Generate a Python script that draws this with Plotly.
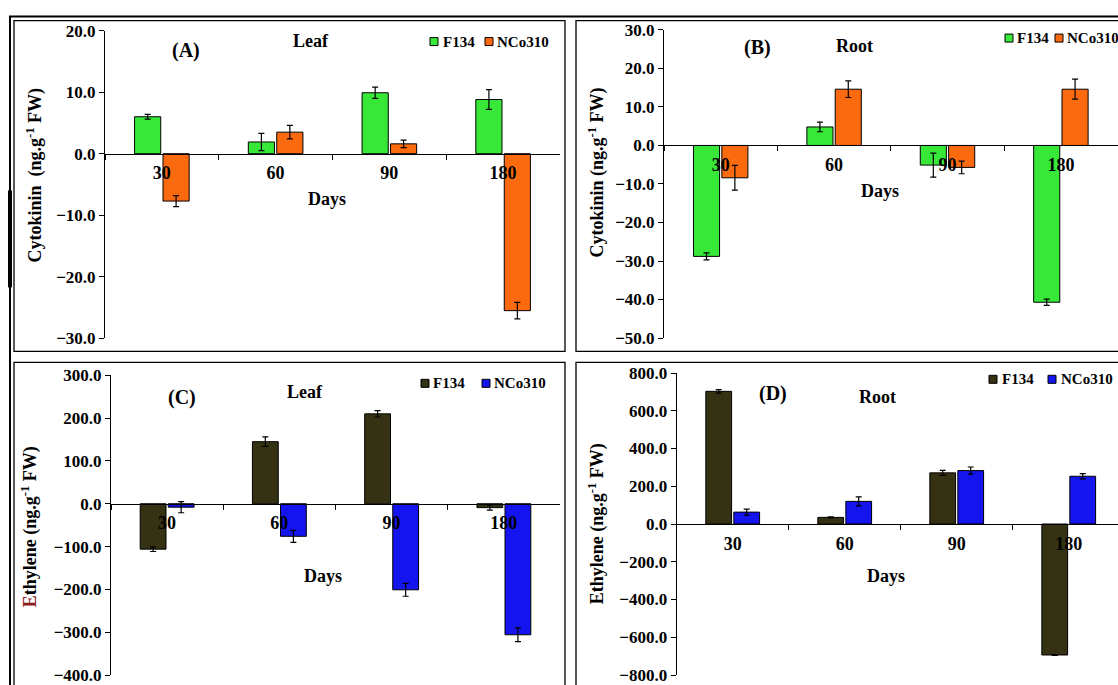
import plotly.graph_objects as go

# ---------------- data ----------------
days = ["30", "60", "90", "180"]

cyto_leaf_F134 = [6.0, 1.9, 9.9, 8.8]
cyto_leaf_F134_err = [0.4, 1.4, 0.9, 1.6]
cyto_leaf_NCo310 = [-7.7, 3.5, 1.6, -25.5]
cyto_leaf_NCo310_err = [0.9, 1.1, 0.6, 1.35]

cyto_root_F134 = [-28.8, 4.8, -5.1, -40.7]
cyto_root_F134_err = [0.9, 1.25, 3.1, 0.8]
cyto_root_NCo310 = [-8.4, 14.6, -5.7, 14.6]
cyto_root_NCo310_err = [3.2, 2.15, 1.65, 2.6]

eth_leaf_F134 = [-106, 145, 210, -9]
eth_leaf_F134_err = [5.5, 11, 7.4, 6]
eth_leaf_NCo310 = [-8, -76, -201, -306]
eth_leaf_NCo310_err = [13, 14, 15, 16]

eth_root_F134 = [703, 35, 271, -694]
eth_root_F134_err = [9, 3, 13, 2]
eth_root_NCo310 = [63, 120, 283, 253]
eth_root_NCo310_err = [16, 24, 19, 14]

series_names = ["F134", "NCo310"]

# ---------------- style ----------------
W, H = 1118, 685
FONT = "Liberation Serif, Times New Roman, serif"
GREEN, ORANGE = "#38e838", "#fc6a10"
OLIVE, BLUE = "#353113", "#1414ee"


def fx(x):
    return x / W


def fy(y):
    # vertical pixel position (top-down) -> paper fraction
    return 1 - ((y - 8.4) / 0.973) / H


def clamp(v):
    return min(1.0, max(0.0, v))


panels = [
    dict(key="", x0=105, x1=560, y0=30, y1=338, rng=[-30, 20], dt=10,
         s1=cyto_leaf_F134, e1=cyto_leaf_F134_err, s2=cyto_leaf_NCo310, e2=cyto_leaf_NCo310_err,
         c1=GREEN, c2=ORANGE, xr=[-0.5, 3.5]),
    dict(key="2", x0=664, x1=1117.6, y0=29.3, y1=337.7, rng=[-50, 30], dt=10,
         s1=cyto_root_F134, e1=cyto_root_F134_err, s2=cyto_root_NCo310, e2=cyto_root_NCo310_err,
         c1=GREEN, c2=ORANGE, xr=[-0.5, 3.5]),
    dict(key="3", x0=111, x1=560, y0=375, y1=675, rng=[-400, 300], dt=100,
         s1=eth_leaf_F134, e1=eth_leaf_F134_err, s2=eth_leaf_NCo310, e2=eth_leaf_NCo310_err,
         c1=OLIVE, c2=BLUE, xr=[-0.5, 3.5]),
    dict(key="4", x0=676.7, x1=1118, y0=372.7, y1=676, rng=[-800, 800], dt=200,
         s1=eth_root_F134, e1=eth_root_F134_err, s2=eth_root_NCo310, e2=eth_root_NCo310_err,
         c1=OLIVE, c2=BLUE, xr=[-0.5, 3.44]),
]

fig = go.Figure()
layout = dict(
    width=W, height=H, margin=dict(l=0, r=0, t=0, b=0),
    paper_bgcolor="white", plot_bgcolor="rgba(0,0,0,0)",
    barmode="group", bargap=0.5, bargroupgap=0.08, showlegend=False,
    font=dict(family=FONT, color="black", size=17),
)

for p in panels:
    k = p["key"]
    xa, ya = "x" + k, "y" + k
    for vals, errs, col, name in [(p["s1"], p["e1"], p["c1"], series_names[0]),
                                  (p["s2"], p["e2"], p["c2"], series_names[1])]:
        fig.add_trace(go.Bar(
            x=days, y=vals, name=name, xaxis=xa, yaxis=ya,
            marker=dict(color=col, line=dict(color="black", width=1)),
            error_y=dict(type="data", array=errs, color="black", thickness=1.2, width=3),
        ))
    d0, d1 = clamp(fy(p["y1"])), clamp(fy(p["y0"]))
    r0, r1 = p["rng"]
    zero_pos = d0 + (0 - r0) / (r1 - r0) * (d1 - d0)
    layout["xaxis" + k] = dict(
        domain=[fx(p["x0"]), fx(p["x1"])], anchor="free", position=zero_pos,
        type="category", range=p["xr"], showline=True, linecolor="black", linewidth=1,
        ticks="outside", tickson="boundaries", ticklen=5, tickcolor="black",
        tickfont=dict(family=FONT, size=18, color="black", weight="bold"),
        ticklabelstandoff=3, showgrid=False, zeroline=False, fixedrange=True,
    )
    layout["yaxis" + k] = dict(
        domain=[d0, d1], anchor="x" + k, range=p["rng"], dtick=p["dt"], tick0=0,
        tickformat=".1f", showline=True, linecolor="black", linewidth=1,
        ticks="outside", ticklen=5, tickcolor="black", showgrid=False, zeroline=False,
        tickfont=dict(family=FONT, size=17, color="black", weight="bold"),
    )

fig.update_layout(**layout)

# ---------------- text annotations ----------------
ann = []


def text(x, y, s, size=18, xanchor="center", angle=0):
    ann.append(dict(x=fx(x), y=fy(y), xref="paper", yref="paper", text=s, showarrow=False,
                    xanchor=xanchor, yanchor="middle", textangle=angle,
                    font=dict(family=FONT, size=size, color="black", weight="bold")))


sup = "<sup>-1</sup>"
text(186, 50, "(A)", 20)
text(311, 40, "Leaf", 18)
text(327, 199, "Days", 18)
text(35, 175, "Cytokinin\u00a0\u00a0(ng.g" + sup + " FW)", 18, angle=-90)

text(757, 47, "(B)", 20)
text(854, 45, "Root", 18)
text(880, 191, "Days", 18)
text(597, 172, "Cytokinin\u00a0(ng.g" + sup + " FW)", 18, angle=-90)

text(182, 397, "(C)", 20)
text(305, 392, "Leaf", 18)
text(323, 576, "Days", 18)
text(30, 527, "<span style='color:#8b2020'>E</span>thylene (ng.g" + sup + " FW)", 18, angle=-90)

text(773, 393, "(D)", 20)
text(877, 397, "Root", 18)
text(886, 576, "Days", 18)
text(597, 524, "Ethylene\u00a0(ng.g" + sup + " FW)", 18, angle=-90)

# legends (square swatches + labels)
shapes = []
legends = [
    (430, 485, 41, 441, 495, GREEN, ORANGE),
    (1005, 1055, 37.5, 1015, 1065, GREEN, ORANGE),
    (421, 482, 383, 431, 492, OLIVE, BLUE),
    (989, 1048, 379, 1000, 1059, OLIVE, BLUE),
]
for sx1, sx2, cy, tx1, tx2, c1, c2 in legends:
    for sx, c in [(sx1, c1), (sx2, c2)]:
        shapes.append(dict(type="rect", xref="paper", yref="paper",
                           x0=fx(sx), x1=fx(sx + 8), y0=fy(cy + 4), y1=fy(cy - 4),
                           fillcolor=c, line=dict(color="black", width=1)))
    text(tx1, cy, series_names[0], 15, xanchor="left")
    text(tx2, cy, series_names[1], 15, xanchor="left")

# frames
def rect(x0, y0, x1, y1, w):
    shapes.append(dict(type="rect", xref="paper", yref="paper", x0=fx(x0), x1=fx(x1),
                       y0=fy(y1), y1=fy(y0), line=dict(color="black", width=w),
                       fillcolor="rgba(0,0,0,0)", layer="below"))


rect(10, 16, 1130, 720, 2)
rect(14, 20, 565, 351, 1.3)
rect(576, 20, 1130, 351, 1.3)
rect(14, 362, 565, 720, 1.3)
rect(576, 362, 1130, 720, 1.3)
shapes.append(dict(type="line", xref="paper", yref="paper", x0=fx(10), x1=fx(10),
                   y0=fy(190), y1=fy(287), line=dict(color="black", width=4)))

fig.update_layout(annotations=ann, shapes=shapes)
fig.write_html("out.html", config={"displayModeBar": False},
               post_script="document.body.style.margin='0';document.body.style.overflow='hidden';")
